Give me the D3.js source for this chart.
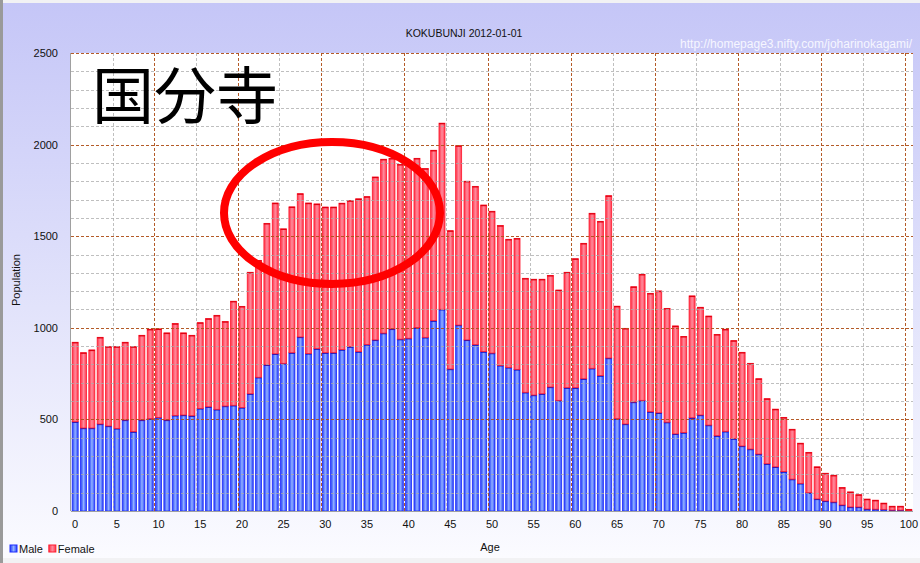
<!DOCTYPE html>
<html>
<head>
<meta charset="utf-8">
<script src="https://cdn.jsdelivr.net/npm/d3@7"></script>
<style>
  html, body { margin: 0; padding: 0; background: #fff; }
  svg { display: block; font-family: "Liberation Sans", Arial, sans-serif; }
</style>
</head>
<body>
<div id="chart"></div>
<script>
// Population by age (0..100), Kokubunji 2012-01-01
const ages = d3.range(0, 101);
const male = [
  487, 453, 453, 475, 464, 451, 497, 433, 497, 504,
  511, 497, 522, 524, 520, 560, 569, 555, 573, 577,
  565, 640, 730, 798, 858, 806, 864, 950, 860, 886,
  864, 864, 881, 897, 870, 909, 934, 971, 994, 938,
  943, 1001, 948, 1039, 1101, 775, 1015, 934, 908, 870,
  862, 795, 784, 773, 648, 633, 640, 677, 604, 673,
  673, 722, 779, 739, 835, 504, 475, 595, 604, 542,
  536, 485, 421, 428, 509, 524, 469, 411, 435, 395,
  355, 338, 311, 258, 241, 215, 174, 151, 100, 66,
  55, 49, 33, 22, 22, 11, 10, 9, 5, 5,
  1
];
const female = [
  434, 411, 426, 473, 433, 446, 424, 464, 462, 488,
  483, 475, 501, 448, 439, 468, 481, 513, 461, 568,
  552, 663, 638, 772, 823, 734, 796, 782, 821, 790,
  795, 795, 799, 797, 834, 807, 889, 949, 931, 954,
  962, 924, 921, 930, 1016, 755, 979, 866, 864, 800,
  774, 763, 699, 715, 622, 632, 625, 609, 602, 630,
  704, 739, 846, 842, 886, 614, 522, 629, 688, 646,
  665, 621, 589, 525, 665, 588, 595, 553, 557, 535,
  511, 468, 411, 355, 315, 296, 272, 219, 220, 175,
  151, 146, 95, 82, 67, 54, 49, 34, 21, 21,
  8
];
const seriesNames = ["Male", "Female"];
const yTicks = [0, 500, 1000, 1500, 2000, 2500];
const xTicks = d3.range(0, 101, 5);

const width = 920, height = 563;
const plot = { left: 71, right: 913, top: 53, bottom: 511 };

const svg = d3.select("#chart").append("svg")
  .attr("width", width)
  .attr("height", height);

const defs = svg.append("defs");

// page background gradient
const bg = defs.append("linearGradient").attr("id", "bg")
  .attr("x1", 0).attr("y1", 0).attr("x2", 0).attr("y2", 1);
bg.append("stop").attr("offset", "0%").attr("stop-color", "#c5c6f7");
bg.append("stop").attr("offset", "55%").attr("stop-color", "#e2e3fb");
bg.append("stop").attr("offset", "100%").attr("stop-color", "#fbfbff");

// bar gradients
function barGrad(id, edge, mid, light) {
  const g = defs.append("linearGradient").attr("id", id)
    .attr("x1", 0).attr("y1", 0).attr("x2", 1).attr("y2", 0);
  [[0, edge], [0.3, mid], [0.5, light], [0.75, mid], [1, edge]].forEach(s => {
    g.append("stop").attr("offset", s[0]).attr("stop-color", s[1]);
  });
}
barGrad("gMale", "#2b3ff2", "#5d7cff", "#93b0ff");
barGrad("gFemale", "#ff3347", "#ff6479", "#ff8c9c");

svg.append("rect").attr("width", width).attr("height", height).attr("fill", "#f2f2f4");
svg.append("rect").attr("x", 3).attr("y", 3).attr("width", width - 3).attr("height", height - 8)
  .attr("fill", "url(#bg)");
svg.append("rect").attr("x", 0).attr("y", 0).attr("width", 3).attr("height", height).attr("fill", "#9a9a9a");

// plot area
svg.append("rect")
  .attr("x", plot.left).attr("y", plot.top)
  .attr("width", plot.right - plot.left).attr("height", plot.bottom - plot.top)
  .attr("fill", "#ffffff");

const x = d3.scaleBand()
  .domain(ages)
  .range([plot.left, plot.right])
  .paddingInner(0.28)
  .paddingOuter(0.14);

const y = d3.scaleLinear()
  .domain([0, 2500])
  .range([plot.bottom, plot.top]);

// stacked bars
const rows = ages.map((a, i) => ({ age: a, Male: male[i], Female: female[i] }));
const stacked = d3.stack().keys(seriesNames)(rows);
const fills = { Male: "url(#gMale)", Female: "url(#gFemale)" };
const strokes = { Male: "#1f2cff", Female: "#ff1a2e" };
const tops = { Male: "#0a12c8", Female: "#e00010" };

stacked.forEach(layer => {
  const g = svg.append("g");
  g.selectAll("rect")
    .data(layer)
    .join("rect")
    .attr("x", d => x(d.data.age))
    .attr("y", d => y(d[1]))
    .attr("width", x.bandwidth())
    .attr("height", d => Math.max(0, y(d[0]) - y(d[1])))
    .attr("fill", fills[layer.key])
    .attr("stroke", strokes[layer.key])
    .attr("stroke-width", 0.8);
  g.selectAll("line")
    .data(layer)
    .join("line")
    .attr("x1", d => x(d.data.age))
    .attr("x2", d => x(d.data.age) + x.bandwidth())
    .attr("y1", d => y(d[1]) + 0.5)
    .attr("y2", d => y(d[1]) + 0.5)
    .attr("stroke", tops[layer.key])
    .attr("stroke-width", 1.3);
});

// gridlines (drawn over the bars)
const grid = svg.append("g").attr("stroke-dasharray", "3,2").attr("stroke-width", 1);
d3.range(100, 2501, 100).forEach(v => {
  grid.append("line")
    .attr("x1", plot.left).attr("x2", plot.right)
    .attr("y1", Math.round(y(v)) + 0.5).attr("y2", Math.round(y(v)) + 0.5)
    .attr("stroke", v % 500 === 0 ? "#b0521c" : "#a9a9a9")
    .attr("stroke-opacity", v % 500 === 0 ? 0.95 : 0.75);
});
xTicks.filter(a => a > 0).forEach(a => {
  const gx = Math.round(x(a) - (x(a) - x(a - 1) - x.bandwidth()) / 2) + 0.5;
  grid.append("line")
    .attr("x1", gx).attr("x2", gx)
    .attr("y1", plot.top).attr("y2", plot.bottom)
    .attr("stroke", a % 10 === 0 ? "#b0521c" : "#a9a9a9")
    .attr("stroke-opacity", a % 10 === 0 ? 0.95 : 0.75);
});

// axis lines
svg.append("line")
  .attr("x1", plot.left - 0.5).attr("x2", plot.left - 0.5)
  .attr("y1", plot.top).attr("y2", plot.bottom)
  .attr("stroke", "#a0a0a0");
svg.append("line")
  .attr("x1", plot.left).attr("x2", plot.right)
  .attr("y1", plot.bottom + 0.5).attr("y2", plot.bottom + 0.5)
  .attr("stroke", "#a0a0a0");

// axes labels
const xAxis = svg.append("g")
  .attr("transform", `translate(0, ${plot.bottom})`)
  .call(d3.axisBottom(x).tickValues(xTicks).tickSize(0).tickPadding(9));
xAxis.select(".domain").remove();
xAxis.selectAll("text").attr("font-size", 11).attr("fill", "#111")
  .attr("font-family", "Liberation Sans, Arial, sans-serif");

const yAxis = svg.append("g")
  .attr("transform", `translate(${plot.left}, 0)`)
  .call(d3.axisLeft(y).tickValues(yTicks).tickFormat(d3.format("d")).tickSize(0).tickPadding(13));
yAxis.select(".domain").remove();
yAxis.selectAll("text").attr("font-size", 11).attr("fill", "#111")
  .attr("font-family", "Liberation Sans, Arial, sans-serif");

// titles
svg.append("text")
  .attr("x", 464).attr("y", 37)
  .attr("text-anchor", "middle")
  .attr("font-size", 10.5)
  .attr("fill", "#111")
  .text("KOKUBUNJI 2012-01-01");

svg.append("text")
  .attr("x", 912).attr("y", 48)
  .attr("text-anchor", "end")
  .attr("font-size", 12)
  .attr("fill", "#f6f6ff")
  .text("http://homepage3.nifty.com/joharinokagami/");

svg.append("text")
  .attr("transform", "translate(20, 280) rotate(-90)")
  .attr("text-anchor", "middle")
  .attr("font-size", 11)
  .attr("fill", "#111")
  .text("Population");

svg.append("text")
  .attr("x", 490).attr("y", 551)
  .attr("text-anchor", "middle")
  .attr("font-size", 11)
  .attr("fill", "#111")
  .text("Age");

// legend
const legend = svg.append("g").attr("transform", "translate(10, 545)");
let lx = 0;
seriesNames.forEach(name => {
  legend.append("rect")
    .attr("x", lx).attr("y", 0).attr("width", 7).attr("height", 7)
    .attr("fill", fills[name]).attr("stroke", strokes[name]);
  const t = legend.append("text")
    .attr("x", lx + 9).attr("y", 7.5)
    .attr("font-size", 11)
    .attr("fill", "#111")
    .text(name);
  lx += 9 + t.node().getComputedTextLength() + 6;
});

// annotations: kanji + red ellipse
svg.append("text")
  .attr("x", 92).attr("y", 119)
  .attr("font-family", "'Noto Sans CJK JP', 'Noto Sans CJK SC', sans-serif")
  .attr("font-size", 62)
  .attr("fill", "#000")
  .text("国分寺");

svg.append("ellipse")
  .attr("cx", 332).attr("cy", 213)
  .attr("rx", 108).attr("ry", 71)
  .attr("fill", "none")
  .attr("stroke", "#ff0000")
  .attr("stroke-width", 8);
</script>
</body>
</html>
